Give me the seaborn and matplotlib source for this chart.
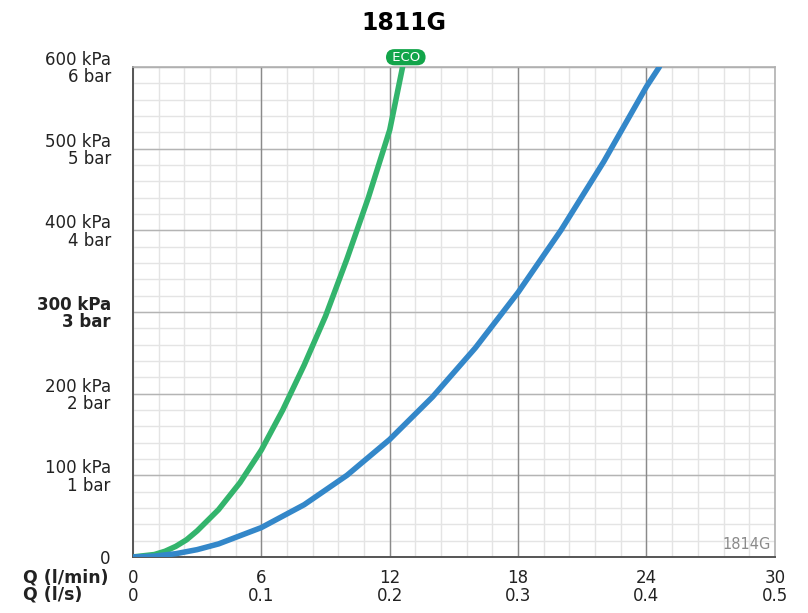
import numpy as np
import matplotlib
matplotlib.use("Agg")
import matplotlib.pyplot as plt
import seaborn as sns
import pandas as pd

# Flow (l/min) vs pressure (kPa)
q_eco = [0, 1, 1.5, 2, 2.5, 3, 4, 5, 6, 7, 8, 9, 10, 11, 12, 12.6]
p_eco = [0, 3, 7, 13, 21, 32, 58, 91, 131, 180, 235, 295, 365, 440, 523, 600]
q_std = [0, 1, 2, 3, 4, 6, 8, 10, 12, 14, 16, 18, 20, 22, 24, 24.6]
p_std = [0, 1, 4, 9, 16, 36, 64, 100, 144, 196, 256, 324, 400, 484, 576, 600]

x_ticks = [0, 6, 12, 18, 24, 30]
x_labels = ["0\n0", "6\n0.1", "12\n0.2", "18\n0.3", "24\n0.4", "30\n0.5"]
y_ticks = [0, 100, 200, 300, 400, 500, 600]
y_labels = ["0", "100 kPa\n1 bar", "200 kPa\n2 bar", "300 kPa\n3 bar",
            "400 kPa\n4 bar", "500 kPa\n5 bar", "600 kPa\n6 bar"]

sns.set_style("white")
plt.rcParams['font.family'] = ['DejaVu Sans']

fig = plt.figure(figsize=(8.08, 6.13), dpi=100)
ax = fig.add_axes([0.1646, 0.0914, 0.7944, 0.7993])

# grid
for v in np.arange(0, 30.01, 1.2):
    ax.axvline(v, color="#e4e4e4", lw=1.0, zorder=0)
for v in np.arange(0, 600.01, 20):
    ax.axhline(v, color="#e4e4e4", lw=1.0, zorder=0)
for v in y_ticks[1:]:
    ax.axhline(v, color="#b4b4b4", lw=1.0, zorder=0.5)
for v in x_ticks[1:-1]:
    ax.axvline(v, color="#8a8a8a", lw=1.0, zorder=0.5)

eco = pd.DataFrame({"q": q_eco, "p": p_eco})
std = pd.DataFrame({"q": q_std, "p": p_std})
sns.lineplot(data=eco, x="q", y="p", color="#33b46c", lw=4, ax=ax,
             solid_capstyle="round", solid_joinstyle="round", zorder=3)
sns.lineplot(data=std, x="q", y="p", color="#3387c9", lw=4, ax=ax,
             solid_capstyle="round", solid_joinstyle="round", zorder=3)

ax.set_xlim(0, 30)
ax.set_ylim(0, 600)
ax.set_xlabel("")
ax.set_ylabel("")
ax.set_xticks(x_ticks)
ax.set_xticklabels(x_labels, fontsize=12, linespacing=0.95)
ax.set_yticks(y_ticks)
ax.set_yticklabels(y_labels, fontsize=12, ha="right", linespacing=0.95)
ax.get_yticklabels()[3].set_fontweight("bold")
ax.tick_params(axis="both", length=7, width=1.2, color="#555555",
               direction="out", labelcolor="#222222")
ax.tick_params(axis="y", pad=9)
ax.tick_params(axis="x", pad=2)

for s in ["left", "bottom"]:
    ax.spines[s].set_color("#555555")
    ax.spines[s].set_linewidth(1.4)
for s in ["top", "right"]:
    ax.spines[s].set_color("#b0b0b0")
    ax.spines[s].set_linewidth(1.2)

fig.text(0.5, 0.963, "1811G", ha="center", va="center",
         fontsize=17, fontweight="bold", color="black")
fig.text(0.028, 0.044, "Q (l/min)\nQ (l/s)", ha="left", va="center",
         fontsize=12.5, fontweight="bold", linespacing=0.95, color="#222222")
ax.text(29.8, 6, "1814G", ha="right", va="bottom", fontsize=10.5,
        color="#8a8a8a")
ax.text(12.75, 612, " ECO ", ha="center", va="center", fontsize=9.5,
        color="white", clip_on=False,
        bbox=dict(boxstyle="round,pad=0.12,rounding_size=0.65",
                  fc="#12a54a", ec="none"))

fig.savefig("out.png", dpi=100)
